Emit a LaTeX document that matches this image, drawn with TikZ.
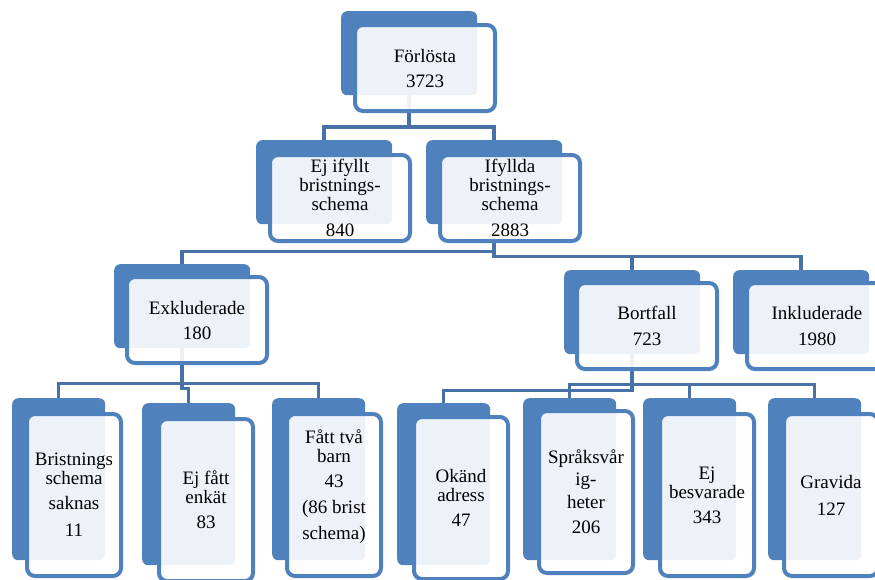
\documentclass[tikz,border=0pt]{standalone}
\usepackage{fontspec}
\setmainfont{Liberation Serif}
\pgfdeclarelayer{bg}
\pgfsetlayers{bg,main}
\definecolor{boxblue}{RGB}{79,129,189}
\definecolor{lineblue}{RGB}{72,113,168}
\tikzset{back/.style={fill=boxblue,rounded corners=6pt,inner sep=0pt,anchor=north west,minimum width=136pt,minimum height=84pt},
  front/.style={draw=boxblue,line width=4pt,fill=white,fill opacity=0.9,text opacity=1,rounded corners=8pt,inner sep=0pt,anchor=north west,minimum width=140pt,minimum height=86pt,align=center,font=\fontsize{19}{19}\selectfont},
  tallback/.style={back,minimum width=93pt,minimum height=162pt},
  tallfront/.style={front,minimum width=94pt,minimum height=162pt},
  link/.style={draw=lineblue,line width=3.5pt}}

\begin{document}
\begin{tikzpicture}[x=1pt,y=-1pt]
  \clip (0,0) rectangle (875,579);
  % level 1
  \node[back] (top-b) at (341,11) {};
  \node[front] (top) at (353,23) {Förlösta\\[6pt]3723};
  % level 2
  \node[back] (ej-b) at (256,140) {};
  \node[front] (ej) at (268,153) {Ej ifyllt\\bristnings-\\schema\\[7pt]840};
  \node[back] (ifyllda-b) at (426,140) {};
  \node[front] (ifyllda) at (438,153) {Ifyllda\\bristnings-\\schema\\[7pt]2883};
  % level 3
  \node[back] (exkl-b) at (114,264) {};
  \node[front] (exkl) at (125,275) {Exkluderade\\[6pt]180};
  \node[back] (bort-b) at (564,270) {};
  \node[front] (bort) at (575,281) {Bortfall\\[7pt]723};
  \node[back] (inkl-b) at (733,270) {};
  \node[front] (inkl) at (745,281) {Inkluderade\\[7pt]1980};
  % level 4
  \node[tallback] (brist-b) at (12,398) {};
  \node[tallfront] (brist) at (25,412) {Bristnings\\schema\\[6pt]saknas\\[8pt]11};
  \node[tallback] (enkat-b) at (142,403) {};
  \node[tallfront] (enkat) at (157,417) {Ej fått\\enkät\\[6pt]83};
  \node[tallback] (tva-b) at (272,398) {};
  \node[tallfront] (tva) at (285,412) {Fått två\\barn\\[6pt]43\\[7pt](86 brist\\[7pt]schema)\\[2pt]};
  \node[tallback] (okand-b) at (397,403) {};
  \node[tallfront] (okand) at (412,415) {Okänd\\adress\\[6pt]47};
  \node[tallback] (sprak-b) at (523,398) {};
  \node[tallfront] (sprak) at (537,409) {Språksvår\\[3pt]ig-\\[4pt]heter\\[6pt]206};
  \node[tallback] (besv-b) at (643,398) {};
  \node[tallfront] (besv) at (658,412) {Ej\\besvarade\\[6pt]343};
  \node[tallback] (grav-b) at (768,398) {};
  \node[tallfront] (grav) at (782,412) {Gravida\\[8pt]127};
  % connectors
  \begin{pgfonlayer}{bg}
    \draw[link] (top-b.south) -- ++(0,32);
    \draw[link] (ej-b.north) -- ++(0,-13) -| (ifyllda-b.north);
    \draw[link] (ifyllda-b.south) -- ++(0,27) coordinate (j2) -| (exkl-b.north);
    \draw[link] (j2) -- ++(0,5) -| (bort-b.north);
    \draw[link] (j2) ++(0,5) -| (inkl-b.north);
    \draw[link] (exkl-b.south) -- ++(0,35) coordinate (j3) -| (brist-b.north);
    \draw[link] (j3) -| (tva-b.north);
    \draw[link] (j3) -- ++(0,5) -| (enkat-b.north);
    \draw[link] (bort-b.south) -- ++(0,30) coordinate (j4) -| (sprak-b.north);
    \draw[link] (j4) -| (besv-b.north);
    \draw[link] (j4) -| (grav-b.north);
    \draw[link] (j4) -- ++(0,6) -| (okand-b.north);
  \end{pgfonlayer}
\end{tikzpicture}
\end{document}
